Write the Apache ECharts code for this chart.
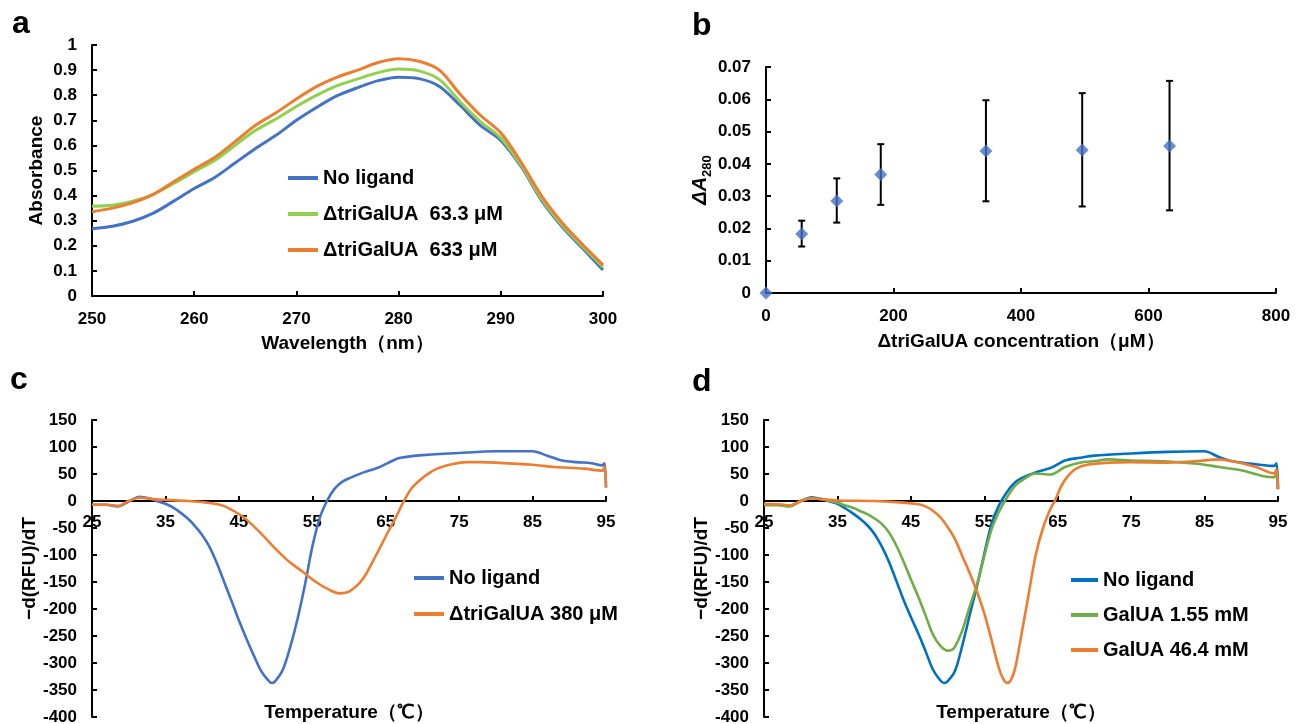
<!DOCTYPE html>
<html>
<head>
<meta charset="utf-8">
<script src="https://cdn.jsdelivr.net/npm/echarts@6/dist/echarts.min.js"></script>
<style>
html,body{margin:0;padding:0;background:#fff;}
#chart{width:1306px;height:724px;}
</style>
</head>
<body>
<div id="chart"></div>
<script>
// ---------- Panel a: absorbance spectra ----------
const aWave = [250,252,254,256,258,260,262,264,266,268,270,272,274,276,278,280,282,284,286,288,290,292,294,296,298,300];
const aNoLigand = [0.268,0.278,0.298,0.330,0.378,0.428,0.472,0.530,0.588,0.640,0.700,0.752,0.798,0.830,0.858,0.872,0.866,0.835,0.760,0.680,0.620,0.515,0.380,0.276,0.190,0.104];
const aTri63 = [0.358,0.362,0.378,0.405,0.448,0.495,0.540,0.600,0.660,0.705,0.755,0.800,0.838,0.865,0.890,0.904,0.897,0.862,0.775,0.695,0.630,0.520,0.386,0.282,0.197,0.115];
const aTri633 = [0.336,0.350,0.372,0.405,0.455,0.505,0.552,0.615,0.680,0.730,0.785,0.835,0.872,0.900,0.930,0.945,0.935,0.900,0.805,0.720,0.650,0.532,0.398,0.292,0.205,0.124];
const aXTicks = [250,260,270,280,290,300];

// ---------- Panel b: ΔA280 vs concentration ----------
const bConc = [0,56,111,180,345,496,633];
const bDelta = [0,0.0183,0.0285,0.0367,0.0440,0.0443,0.0455];
const bErrLow = [0,0.0144,0.0218,0.0273,0.0284,0.0268,0.0256];
const bErrHigh = [0,0.0224,0.0355,0.0461,0.0597,0.0619,0.0657];

// ---------- Panel c: DSF, ΔtriGalUA ----------
const cTempBlue = [25,27,28.5,30,31.5,33,34,35,36,37,38,39,40,41,42,43,44,45,46,47,48,49,49.5,50,51,52,53,54,55,56,57,58,59,60,62,64,66,67,70,75,80,85,87,89,91,93,94.5,94.8,95];
const cNoLigand = [-7,-7,-10,-1,8,4,-1,-5,-12,-21,-32,-46,-63,-85,-115,-150,-185,-221,-254,-285,-314,-332,-337,-333,-312,-270,-218,-155,-85,-32,0,22,35,42,53,62,75,80,85,89,92,92,84,75,72,70,66,70,25];
const cTempOrange = [25,27,28.5,30,31.5,33,35,38,40.6,42.9,45.1,46.5,48.3,50.1,51.9,53.7,55.5,57.4,58.7,60,61.9,63.7,65.1,66.5,67.4,68.5,69.6,70.5,72,74,76,78,80,85,88,92,94.5,94.8,95];
const cTri380 = [-7,-7,-9,0,6,4,2,0,-3,-9,-25,-40,-64,-90,-113,-131,-150,-165,-171,-168,-144,-100,-63,-27,-2,23,38,48,60,68,72,72,71,67,63,60,56,64,25];

// ---------- Panel d: DSF, GalUA ----------
const dTempBlue = [25,27,28.5,30,31.5,33,34,35,36,37,38,39,40,41,42,43,44,45,46,47,48,49,49.5,50,51,52,53,54,55,56,57,58,59,60,62,64,66,68,70,75,80,85,87,89,92,94.5,94.8,95];
const dNoLigand = [-7,-7,-9,0,7,3,-1,-5,-13,-22,-32,-44,-60,-83,-112,-147,-183,-215,-245,-278,-312,-332,-337,-334,-315,-268,-212,-158,-98,-42,-8,15,32,42,53,61,75,80,84,88,91,92,81,73,68,65,70,22];
const dTempGreen = [25,27,28.5,30,31.5,33,35,36,37,38,39,40,41,42,43,44,45,46,47,48,49,50,50.5,51,52,53,54,55,56,57,57.8,59,60,62,64,66,68,70,72,75,80,84,87,90,93,94.5,94.8,95];
const dGal155 = [-8,-8,-10,0,5,3,-3,-8,-12,-18,-24,-32,-42,-58,-82,-112,-145,-177,-212,-247,-268,-277,-276,-270,-240,-196,-155,-102,-52,-20,0,25,37,51,49,63,71,74,77,75,73,69,63,57,46,44,52,22];
const dTempOrange = [25,27,28.5,30,31.5,33,35,40,43,46,47,48,49,50,51,52,53,54,55,56,57,57.6,58.1,58.6,59.2,60,61,62,63,64,64.6,65.5,66.5,67.5,69,72,75,80,84,87,89,92,94.5,94.8,95];
const dGal464 = [-5,-6,-8,0,5,3,1,0,-2,-6,-10,-18,-30,-48,-70,-102,-133,-168,-208,-258,-310,-330,-337,-332,-310,-252,-176,-100,-50,-15,0,28,48,60,67,71,72,71,74,77,73,63,51,59,22];

const tempTicks = [25,35,45,55,65,75,85,95];

const zip = (xs, ys) => xs.map((x, i) => [x, ys[i]]);

const FONT = "'Liberation Sans', Arial, sans-serif";
const BLACK = '#000';

function labelStyle(margin) {
  return {color: BLACK, fontSize: 17, fontWeight: 'bold', fontFamily: FONT, margin: margin};
}

function baseAxis(extra) {
  return Object.assign({
    axisLine: {show: true, onZero: true, lineStyle: {color: BLACK, width: 2}},
    axisTick: {show: true, inside: true, length: 5, lineStyle: {color: BLACK, width: 2}},
    axisLabel: labelStyle(15),
    splitLine: {show: false},
    nameLocation: 'middle',
    nameTextStyle: {color: BLACK, fontSize: 19, fontWeight: 'bold', fontFamily: FONT}
  }, extra);
}

// temperature axes sit on y = 0: shift them up from the grid bottom by the zero position
const DSF_TOP = 420, DSF_BOTTOM = 7, DSF_H = 724 - DSF_TOP - DSF_BOTTOM;
const DSF_MIN = -400, DSF_MAX = 150;
const zeroShift = -Math.round(DSF_H * (0 - DSF_MIN) / (DSF_MAX - DSF_MIN));

function tempAxis(grid) {
  return baseAxis({gridIndex: grid, type: 'value', min: tempTicks[0], max: tempTicks[tempTicks.length - 1], interval: 10,
    position: 'bottom', offset: zeroShift,
    axisLine: {show: true, onZero: false, lineStyle: {color: BLACK, width: 2}},
    name: 'Temperature（℃）', nameGap: 202, axisLabel: labelStyle(13)});
}

function lineSeries(name, data, color, xi, width) {
  return {
    name: name, type: 'line', xAxisIndex: xi, yAxisIndex: xi,
    data: data, showSymbol: false, symbol: 'none', smooth: 0.3,
    lineStyle: {color: color, width: width}, itemStyle: {color: color},
    z: 3
  };
}

const legendText = {color: BLACK, fontSize: 20, fontWeight: 'bold', fontFamily: FONT, lineHeight: 20};
const panelLabel = (t, x, y) => ({type: 'text', left: x, top: y,
  style: {text: t, fontSize: 32, fontWeight: 'bold', fontFamily: FONT, fill: BLACK}});

const option = {
  backgroundColor: '#fff',
  animation: false,
  graphic: [
    panelLabel('a', 12, 8),
    panelLabel('b', 692, 10),
    panelLabel('c', 10, 364),
    panelLabel('d', 692, 366)
  ],
  grid: [
    {left: 92, right: 703, top: 45, bottom: 428, outerBoundsMode: 'none', containLabel: false},
    {left: 766, right: 30, top: 67, bottom: 431, outerBoundsMode: 'none', containLabel: false},
    {left: 92, right: 700, top: DSF_TOP, bottom: DSF_BOTTOM, outerBoundsMode: 'none', containLabel: false},
    {left: 764, right: 28, top: DSF_TOP, bottom: DSF_BOTTOM, outerBoundsMode: 'none', containLabel: false}
  ],
  legend: [
    {
      data: ['No ligand', 'ΔtriGalUA  63.3 μM', 'ΔtriGalUA  633 μM'],
      orient: 'vertical', left: 288, top: 168, padding: 0, itemGap: 16,
      itemWidth: 30, itemHeight: 4, icon: 'rect', textStyle: legendText, selectedMode: false
    },
    {
      data: ['No ligand ', 'ΔtriGalUA 380 μM'],
      orient: 'vertical', left: 414, top: 568, padding: 0, itemGap: 16,
      itemWidth: 30, itemHeight: 4, icon: 'rect', textStyle: legendText, selectedMode: false
    },
    {
      data: ['No ligand  ', 'GalUA 1.55 mM', 'GalUA 46.4 mM'],
      orient: 'vertical', left: 1071, top: 570, padding: 0, itemGap: 15,
      itemWidth: 27, itemHeight: 4, icon: 'rect', textStyle: legendText, selectedMode: false
    }
  ],
  xAxis: [
    baseAxis({gridIndex: 0, type: 'value', min: aXTicks[0], max: aXTicks[aXTicks.length - 1], interval: 10,
      name: 'Wavelength（nm）', nameGap: 38}),
    baseAxis({gridIndex: 1, type: 'value', min: 0, max: 800, interval: 200,
      name: 'ΔtriGalUA concentration（μM）', nameGap: 39}),
    tempAxis(2),
    tempAxis(3)
  ],
  yAxis: [
    baseAxis({gridIndex: 0, type: 'value', min: 0, max: 1, interval: 0.1, name: 'Absorbance', nameGap: 46}),
    baseAxis({gridIndex: 1, type: 'value', min: 0, max: 0.07, interval: 0.01, name: '{i|ΔA}{s|280}', nameGap: 51,
      nameTextStyle: {color: BLACK, fontFamily: FONT, rich: {
        i: {fontSize: 20, fontStyle: 'italic', fontWeight: 'bold', fontFamily: FONT, color: BLACK, lineHeight: 24, verticalAlign: 'top'},
        s: {fontSize: 13, fontWeight: 'bold', fontFamily: FONT, color: BLACK, lineHeight: 13, verticalAlign: 'bottom'}
      }}}),
    baseAxis({gridIndex: 2, type: 'value', min: DSF_MIN, max: DSF_MAX, interval: 50, name: '−d(RFU)/dT', nameGap: 50}),
    baseAxis({gridIndex: 3, type: 'value', min: DSF_MIN, max: DSF_MAX, interval: 50, name: '−d(RFU)/dT', nameGap: 51})
  ],
  series: [
    lineSeries('No ligand', zip(aWave, aNoLigand), '#4472C4', 0, 3),
    lineSeries('ΔtriGalUA  63.3 μM', zip(aWave, aTri63), '#92D050', 0, 3),
    lineSeries('ΔtriGalUA  633 μM', zip(aWave, aTri633), '#ED7D31', 0, 3),
    {
      name: 'err', type: 'custom', xAxisIndex: 1, yAxisIndex: 1, z: 2,
      data: bConc.map((x, i) => [x, bErrLow[i], bErrHigh[i]]).filter(d => d[2] > d[1]),
      encode: {x: 0, y: [1, 2]},
      renderItem: function (params, api) {
        const x = api.value(0);
        const lo = api.coord([x, api.value(1)]);
        const hi = api.coord([x, api.value(2)]);
        const cap = 3.5;
        const st = {stroke: BLACK, lineWidth: 2};
        return {type: 'group', children: [
          {type: 'line', shape: {x1: lo[0], y1: lo[1], x2: hi[0], y2: hi[1]}, style: st},
          {type: 'line', shape: {x1: lo[0] - cap, y1: lo[1], x2: lo[0] + cap, y2: lo[1]}, style: st},
          {type: 'line', shape: {x1: hi[0] - cap, y1: hi[1], x2: hi[0] + cap, y2: hi[1]}, style: st}
        ]};
      }
    },
    {
      name: 'ΔA280', type: 'scatter', xAxisIndex: 1, yAxisIndex: 1, z: 4,
      data: zip(bConc, bDelta), symbol: 'diamond', symbolSize: 13,
      itemStyle: {color: '#4472C4'}
    },
    lineSeries('No ligand ', zip(cTempBlue, cNoLigand), '#4472C4', 2, 2.6),
    lineSeries('ΔtriGalUA 380 μM', zip(cTempOrange, cTri380), '#ED7D31', 2, 2.6),
    lineSeries('No ligand  ', zip(dTempBlue, dNoLigand), '#0070C0', 3, 2.6),
    lineSeries('GalUA 1.55 mM', zip(dTempGreen, dGal155), '#70AD47', 3, 2.6),
    lineSeries('GalUA 46.4 mM', zip(dTempOrange, dGal464), '#ED7D31', 3, 2.6)
  ]
};

const chart = echarts.init(document.getElementById('chart'), null, {renderer: 'canvas'});
chart.setOption(option);
</script>
</body>
</html>
